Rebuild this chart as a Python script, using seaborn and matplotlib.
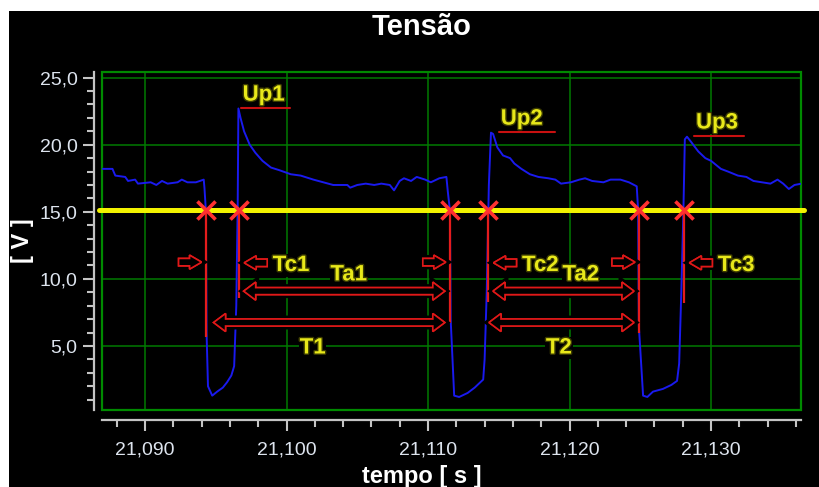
import matplotlib
matplotlib.use("Agg")
import matplotlib.pyplot as plt
import matplotlib.patheffects as pe
from matplotlib.patches import Polygon, Rectangle
from matplotlib.ticker import MultipleLocator, FuncFormatter
import numpy as np
import pandas as pd
import seaborn as sns

# ---------------- data ----------------
tempo = [21.0870, 21.0877, 21.0879, 21.0886, 21.0888, 21.0893, 21.0895, 21.0904,
         21.0908, 21.0912, 21.0916, 21.0923, 21.0926, 21.0930, 21.0936, 21.09415,
         21.0942, 21.0943, 21.09435, 21.09445, 21.09475, 21.0951, 21.0955, 21.0958,
         21.0961, 21.0963, 21.09645, 21.09655, 21.0966, 21.09675, 21.0970, 21.0974,
         21.0978, 21.0983, 21.0989, 21.0995, 21.1003, 21.1010, 21.1019, 21.1026,
         21.1033, 21.1043, 21.1045, 21.1050, 21.1056, 21.1062, 21.1067, 21.1073,
         21.1076, 21.1080, 21.1083, 21.1088, 21.1092, 21.1098, 21.1102, 21.1108,
         21.1113, 21.1114, 21.11155, 21.1116, 21.11185, 21.1122, 21.1128, 21.1133,
         21.1139, 21.1140, 21.11415, 21.1143, 21.11445, 21.1146, 21.1149, 21.1153,
         21.1158, 21.1161, 21.1166, 21.1172, 21.1178, 21.1185, 21.1190, 21.1194,
         21.1201, 21.1207, 21.1211, 21.1216, 21.1224, 21.1229, 21.1236, 21.1242,
         21.12475, 21.12485, 21.1249, 21.1252, 21.1255, 21.1259, 21.1266, 21.1272,
         21.1276, 21.12775, 21.1279, 21.12805, 21.12815, 21.1283, 21.1286, 21.1291,
         21.1296, 21.1300, 21.1307, 21.1312, 21.1319, 21.1325, 21.1330, 21.1336,
         21.1342, 21.1347, 21.1351, 21.1355, 21.1359, 21.1364]
tensao = [18.2, 18.2, 17.7, 17.6, 17.3, 17.4, 17.1, 17.2,
          17.0, 17.3, 17.1, 17.2, 17.4, 17.2, 17.2, 17.4,
          16.8, 15.1, 6.0, 2.0, 1.3, 1.6, 1.9, 2.3,
          2.8, 3.5, 8.0, 15.5, 22.7, 22.0, 21.0, 20.0,
          19.4, 18.8, 18.3, 18.1, 17.8, 17.7, 17.4, 17.2,
          17.0, 17.0, 16.8, 17.0, 17.1, 17.0, 17.1, 17.0,
          16.6, 17.3, 17.5, 17.3, 17.6, 17.4, 17.2, 17.5,
          17.6, 16.5, 15.1, 7.0, 1.3, 1.2, 1.5, 1.9,
          2.5, 4.0, 9.0, 17.0, 20.9, 20.8, 19.8, 19.2,
          19.0, 18.6, 18.2, 17.8, 17.6, 17.5, 17.4, 17.1,
          17.2, 17.4, 17.5, 17.3, 17.2, 17.4, 17.4, 17.2,
          16.9, 15.1, 6.5, 1.3, 1.2, 1.6, 1.8, 2.1,
          2.4, 3.7, 9.0, 15.1, 20.4, 20.6, 20.2, 19.5,
          19.0, 18.8, 18.2, 18.0, 17.7, 17.6, 17.3, 17.2,
          17.1, 17.4, 17.1, 16.7, 17.0, 17.1]

limiar = 15.1                                    # yellow threshold line
cruzamentos = [21.09428, 21.09662, 21.11154, 21.11424, 21.12491, 21.12808]
base_marcas = [5.65, 8.55, 6.7, 8.25, 5.95, 8.2]  # lower end of red markers

up_labels = ["Up1", "Up2", "Up3"]
up_valor = [22.73, 20.94, 20.65]
up_inicio = [21.09676, 21.11500, 21.12880]
up_fim = [21.10023, 21.11896, 21.13233]

tc_labels = ["Tc1", "Tc2", "Tc3"]
ta_labels = ["Ta1", "Ta2"]
ta_label_x = [21.10440, 21.12080]
t_labels = ["T1", "T2"]
t_label_x = [21.10185, 21.11925]

x_ticks = [21.090, 21.100, 21.110, 21.120, 21.130]
y_ticks = [5.0, 10.0, 15.0, 20.0, 25.0]

df = pd.DataFrame({"tempo": tempo, "tensao": tensao})

# ---------------- style ----------------
sns.set_theme(style="dark")
plt.rcParams["font.family"] = ["Liberation Sans Narrow", "Liberation Sans", "DejaVu Sans"]

W, H = 820, 487
fig = plt.figure(figsize=(W / 100, H / 100), dpi=100, facecolor="white")
fig.patches.append(Rectangle((9 / W, 0), 1, 1 - 11 / H, transform=fig.transFigure,
                             facecolor="black", edgecolor="none", zorder=-10))
ax_l, ax_t, ax_r, ax_b = 102, 72, 801, 410
ax = fig.add_axes([ax_l / W, 1 - ax_b / H, (ax_r - ax_l) / W, (ax_b - ax_t) / H])
ax.set_facecolor("black")

xlim = (21.08696, 21.13636)
ylim = (0.23, 25.42)
ax.set_xlim(*xlim)
ax.set_ylim(*ylim)
sx = (xlim[1] - xlim[0]) / (ax_r - ax_l)   # data units per pixel
sy = (ylim[1] - ylim[0]) / (ax_b - ax_t)

# grid / frame
ax.set_xticks(x_ticks)
ax.set_yticks(y_ticks)
ax.xaxis.set_minor_locator(MultipleLocator(0.002))
ax.yaxis.set_minor_locator(MultipleLocator(1.0))
ax.grid(which="major", color="#007a00", lw=1.1)
ax.grid(which="minor", visible=False)
ax.add_patch(Rectangle((0, 0), 1, 1, transform=ax.transAxes, fill=False,
                       edgecolor="#008a00", lw=1.6, clip_on=False, zorder=2))
for s in ("top", "right"):
    ax.spines[s].set_visible(False)
for s in ("left", "bottom"):
    ax.spines[s].set_visible(True)
    ax.spines[s].set_color("#c4c4c4")
    ax.spines[s].set_linewidth(1.6)
ax.spines["left"].set_position(("outward", 6))
ax.spines["bottom"].set_position(("outward", 7.5))

ax.xaxis.set_major_formatter(FuncFormatter(lambda v, p: f"{v:.3f}".replace(".", ",")))
ax.yaxis.set_major_formatter(FuncFormatter(lambda v, p: f"{v:.1f}".replace(".", ",")))
ax.tick_params(which="major", length=8, width=1.5, color="#c4c4c4",
               labelcolor="#dde4ee", labelsize=14, bottom=True, left=True)
ax.tick_params(which="minor", length=5, width=1.5, color="#c4c4c4", bottom=True, left=True)
ax.tick_params(axis="x", which="major", pad=7)
ax.tick_params(axis="y", which="major", pad=3.5)

# ---------------- marks ----------------
sns.lineplot(data=df, x="tempo", y="tensao", ax=ax, color="#1a1aee", lw=1.4,
             sort=False, estimator=None, zorder=3)
ax.axhline(limiar, xmin=-0.005, xmax=1.005, color="#f2f200", lw=3.6,
           clip_on=False, zorder=4)
ax.vlines(cruzamentos, base_marcas, limiar, colors="#e41c1c", lw=1.6, zorder=5)
sns.scatterplot(x=cruzamentos, y=[limiar] * len(cruzamentos), ax=ax, marker="x",
                s=170, linewidth=2.6, color="#ff3030", zorder=7)

# ---------------- annotations ----------------
yellow = "#e8e81a"
txt_fx = [pe.withStroke(linewidth=2, foreground="#3c3c00")]
arrow_fx = [pe.withStroke(linewidth=5, foreground="black"), pe.Normal()]


def ytext(x, y, s, ha="left"):
    ax.text(x, y, s, color=yellow, fontsize=16, fontweight="bold", ha=ha, va="center",
            zorder=8, path_effects=txt_fx,
            bbox=dict(facecolor="black", edgecolor="none", pad=0.5))


def single_arrow(x_tip, y, direction):
    L, hl, hh, sh = 23 * sx, 12 * sx, 7 * sy, 3.7 * sy
    d = direction
    pts = [(x_tip, y), (x_tip - d * hl, y + hh), (x_tip - d * hl, y + sh),
           (x_tip - d * L, y + sh), (x_tip - d * L, y - sh), (x_tip - d * hl, y - sh),
           (x_tip - d * hl, y - hh)]
    ax.add_patch(Polygon(pts, closed=True, facecolor="black", edgecolor="#e01818",
                         lw=1.2, zorder=6, path_effects=arrow_fx))


def double_arrow(x0, x1, y):
    hl, hh, sh = 12 * sx, 9 * sy, 3.5 * sy
    pts = [(x0, y), (x0 + hl, y + hh), (x0 + hl, y + sh), (x1 - hl, y + sh),
           (x1 - hl, y + hh), (x1, y), (x1 - hl, y - hh), (x1 - hl, y - sh),
           (x0 + hl, y - sh), (x0 + hl, y - hh)]
    ax.add_patch(Polygon(pts, closed=True, facecolor="black", edgecolor="#e01818",
                         lw=1.2, zorder=6, path_effects=arrow_fx))


quedas = cruzamentos[0::2]
subidas = cruzamentos[1::2]
for c in quedas:
    single_arrow(c - 4 * sx, 11.25, +1)
for c, lab in zip(subidas, tc_labels):
    single_arrow(c + 5.5 * sx, 11.2, -1)
    ytext(c + 34 * sx, 11.0, lab)

# Ta arrows: rise -> next fall
for i, (lab, lx) in enumerate(zip(ta_labels, ta_label_x)):
    double_arrow(subidas[i] + 5 * sx, quedas[i + 1] - 5 * sx, 9.09)
    ytext(lx, 10.3, lab, ha="center")
# T arrows
double_arrow(quedas[0] + 8 * sx, quedas[1] - 5 * sx, 6.75)
double_arrow(subidas[1] + 1 * sx, quedas[2] - 5 * sx, 6.75)
for lab, lx in zip(t_labels, t_label_x):
    ytext(lx, 4.85, lab, ha="center")

for lab, v, x0, x1 in zip(up_labels, up_valor, up_inicio, up_fim):
    ax.plot([x0, x1], [v, v], color="#c81010", lw=1.5, zorder=6)
    ytext(x0 + 2 * sx, v + 0.97, lab)

# ---------------- labels ----------------
ax.set_title("Tensão", x=(422 - ax_l) / (ax_r - ax_l), y=1 + (ax_t - 35) / (ax_b - ax_t),
             va="center", fontsize=21, fontweight="bold", color="white")
ax.set_xlabel("tempo [ s ]", fontsize=17, fontweight="bold", color="white")
ax.set_ylabel("[ V ]", fontsize=17, fontweight="bold", color="white")
ax.xaxis.set_label_coords((422 - ax_l) / (ax_r - ax_l), -(477 - ax_b) / (ax_b - ax_t))
ax.xaxis.label.set_va("center")
ax.yaxis.set_label_coords(-(ax_l - 22) / (ax_r - ax_l), 0.5)
ax.yaxis.label.set_va("center")

fig.savefig("out.png", dpi=100, facecolor=fig.get_facecolor())
